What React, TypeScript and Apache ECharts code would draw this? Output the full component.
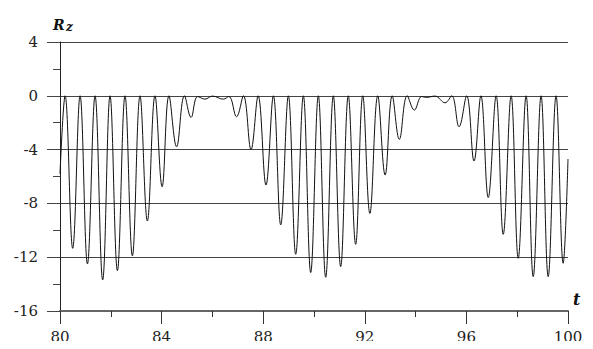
import React, { useEffect, useRef } from "react";
import * as echarts from "echarts";

// Time values (t) of the curve's read-off points: extremes of the oscillation
const tValues = [
  80.0, 80.2, 80.5, 80.79, 81.08, 81.38, 81.68, 81.97, 82.26, 82.56, 82.85, 83.15,
  83.44, 83.74, 84.02, 84.29, 84.59, 84.9, 85.16, 85.42, 85.71, 86.0, 86.43, 86.65,
  86.95, 87.22, 87.52, 87.8, 88.11, 88.4, 88.69, 88.99, 89.28, 89.58, 89.87, 90.17,
  90.46, 90.76, 91.05, 91.35, 91.64, 91.92, 92.2, 92.51, 92.8, 93.08, 93.36, 93.67,
  93.95, 94.24, 94.43, 94.76, 95.16, 95.42, 95.71, 96.01, 96.3, 96.57, 96.86, 97.17,
  97.45, 97.76, 98.04, 98.35, 98.63, 98.94, 99.22, 99.53, 99.81, 100.0,
];
// Rz values at those times
const rzValues = [
  -5.8, 0, -11.34, 0, -12.5, 0, -13.69, 0, -13.0, 0, -11.9, 0,
  -9.31, 0, -6.76, 0, -3.79, 0, -1.61, -0.05, -0.25, -0.02, -0.25, -0.05,
  -1.56, 0, -3.99, 0, -6.63, 0, -9.6, 0, -11.78, 0, -13.14, 0,
  -13.49, 0, -12.7, 0, -11.04, 0, -8.74, 0, -5.89, 0, -3.24, 0,
  -1.06, -0.05, -0.12, -0.02, -0.52, 0, -2.3, 0, -4.85, 0, -7.57, 0,
  -10.3, 0, -12.08, 0, -13.44, 0, -13.44, 0, -12.45, -4.7,
];
const xTicks = [80, 84, 88, 92, 96, 100];
const yTicks = [-16, -12, -8, -4, 0, 4];

const SERIF = "DejaVu Serif";

export default function App() {
  const ref = useRef<HTMLDivElement>(null);
  useEffect(() => {
    if (!ref.current) return;
    const chart = echarts.init(ref.current, undefined, { renderer: "svg" });
    const data = tValues.map((t, i) => [t, rzValues[i]]);
    chart.setOption({
      animation: false,
      backgroundColor: "#fff",
      grid: { left: 60, right: 25, top: 42, bottom: 38 },
      xAxis: {
        type: "value",
        min: xTicks[0],
        max: xTicks[xTicks.length - 1],
        interval: 4,
        axisLine: { show: true, onZero: false, lineStyle: { color: "#666", width: 2 } },
        axisTick: { show: true, length: 13, lineStyle: { color: "#333", width: 1 } },
        minorTick: { show: true, splitNumber: 2, length: 6, lineStyle: { color: "#333", width: 1 } },
        splitLine: { show: false },
        axisLabel: { margin: 18, fontFamily: SERIF, fontSize: 15, color: "#222" },
      },
      yAxis: {
        type: "value",
        min: yTicks[0],
        max: yTicks[yTicks.length - 1],
        interval: 4,
        axisLine: { show: true, onZero: false, lineStyle: { color: "#222", width: 1 } },
        axisTick: { show: true, length: 13, lineStyle: { color: "#444", width: 1 } },
        minorTick: { show: true, splitNumber: 2, length: 7, lineStyle: { color: "#444", width: 1 } },
        splitLine: { show: true, lineStyle: { color: "#444", width: 1 } },
        axisLabel: { margin: 22, fontFamily: SERIF, fontSize: 15, color: "#222" },
      },
      series: [
        {
          type: "line",
          data,
          smooth: 0.4,
          symbol: "none",
          lineStyle: { color: "#111", width: 1 },
        },
      ],
      graphic: [
        {
          type: "text",
          left: 53,
          top: 18,
          style: { text: "R", font: `italic bold 14px ${SERIF}`, fill: "#111" },
        },
        {
          type: "text",
          left: 66,
          top: 21,
          style: { text: "z", font: `italic bold 12px ${SERIF}`, fill: "#111" },
        },
        {
          type: "text",
          left: 573,
          top: 291,
          style: { text: "t", font: `italic bold 16px ${SERIF}`, fill: "#111" },
        },
      ],
    });
    return () => chart.dispose();
  }, []);
  return <div ref={ref} style={{ width: 593, height: 349, margin: -8 }} />;
}
